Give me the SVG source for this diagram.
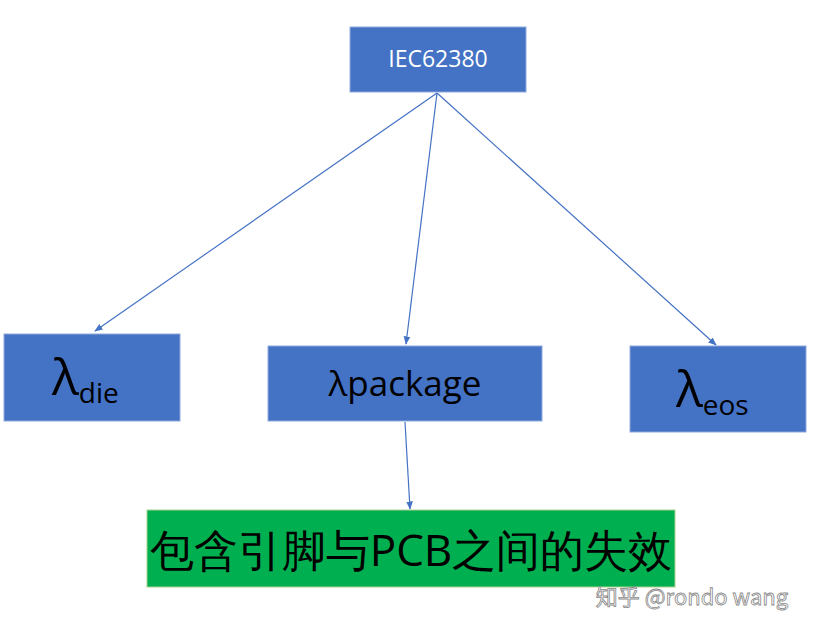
<svg xmlns="http://www.w3.org/2000/svg" width="823" height="633" viewBox="0 0 823 633">
<style>
.n{fill:#4472c4;stroke:#8faadc;stroke-width:1}
.t{font-family:"Open Sans","Noto Sans",sans-serif;fill:#000}
.c{stroke:#4472c4;stroke-width:1.2;fill:none;marker-end:url(#a)}
</style>
<defs><marker id="a" viewBox="0 0 10 10" refX="9" refY="5" markerWidth="7" markerHeight="7" orient="auto"><path d="M0,1L10,5L0,9z" fill="#4472c4"/></marker></defs>
<rect width="823" height="633" fill="#fff"/>
<g id="connectors">
<line class="c" x1="437" y1="93" x2="95" y2="331"/>
<line class="c" x1="437" y1="93" x2="406" y2="344"/>
<line class="c" x1="437" y1="93" x2="716" y2="345"/>
<line class="c" x1="405" y1="422" x2="410" y2="509"/>
</g>
<g id="iec"><rect class="n" x="350" y="27" width="176" height="65"/><text x="438" y="67" text-anchor="middle" font-family="Open Sans,sans-serif" font-size="23" fill="#fff">IEC62380</text></g>
<g id="die"><rect class="n" x="4" y="334" width="176" height="87"/><text class="t" x="52" y="395" font-size="50">λ<tspan font-size="28" dy="8">die</tspan></text></g>
<g id="package"><rect class="n" x="268" y="346" width="274" height="75"/><text class="t" x="405" y="396" text-anchor="middle" font-size="35">λpackage</text></g>
<g id="eos"><rect class="n" x="630" y="346" width="176" height="86"/><text class="t" x="676" y="407" font-size="50">λ<tspan font-size="28" dy="8">eos</tspan></text></g>
<g id="green"><rect x="147" y="510" width="528" height="77" fill="#00b050" stroke="#a9d18e"/><text class="t" x="411" y="566" text-anchor="middle" font-size="44" font-family="Open Sans,Noto Sans CJK SC,sans-serif">包含引脚与PCB之间的失效</text></g>
<text x="692" y="605" text-anchor="middle" font-size="22" font-family="Noto Sans CJK SC,sans-serif" fill="#fff" stroke="#888" stroke-width="0.8">知乎 @rondo wang</text>
</svg>
